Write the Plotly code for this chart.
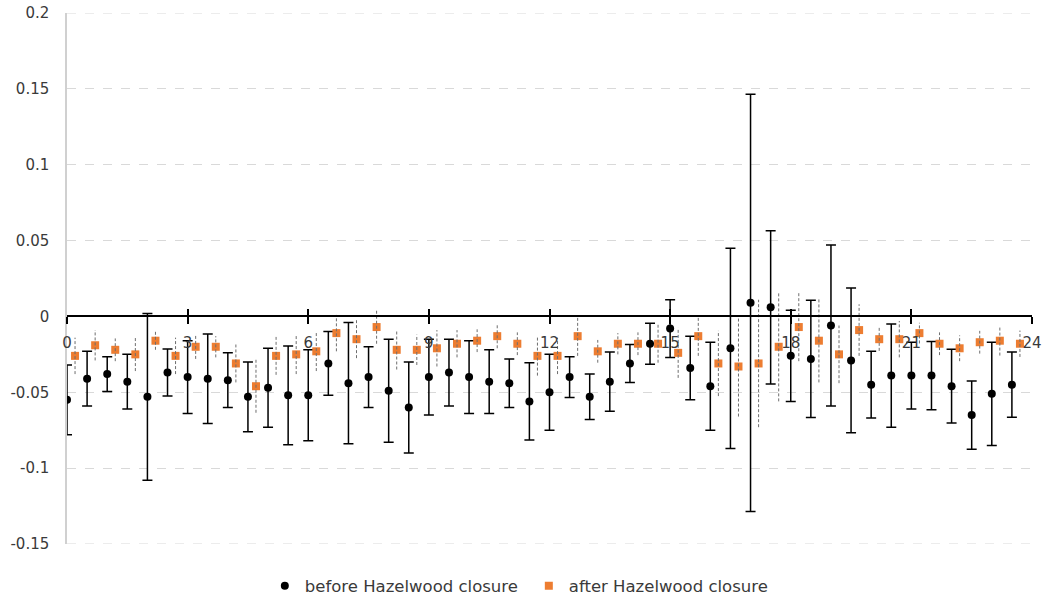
import plotly.graph_objects as go

# Half-hourly time of day (hours)
hours = [0.0, 0.5, 1.0, 1.5, 2.0, 2.5, 3.0, 3.5, 4.0, 4.5, 5.0, 5.5,
         6.0, 6.5, 7.0, 7.5, 8.0, 8.5, 9.0, 9.5, 10.0, 10.5, 11.0, 11.5,
         12.0, 12.5, 13.0, 13.5, 14.0, 14.5, 15.0, 15.5, 16.0, 16.5, 17.0, 17.5,
         18.0, 18.5, 19.0, 19.5, 20.0, 20.5, 21.0, 21.5, 22.0, 22.5, 23.0, 23.5]

before_mean = [-0.055, -0.041, -0.038, -0.043, -0.053, -0.037, -0.040, -0.041,
               -0.042, -0.053, -0.047, -0.052, -0.052, -0.031, -0.044, -0.040,
               -0.049, -0.060, -0.040, -0.037, -0.040, -0.043, -0.044, -0.056,
               -0.050, -0.040, -0.053, -0.043, -0.031, -0.018, -0.008, -0.034,
               -0.046, -0.021, 0.009, 0.006, -0.026, -0.028, -0.006, -0.029,
               -0.045, -0.039, -0.039, -0.039, -0.046, -0.065, -0.051, -0.045]
before_err = [0.023, 0.018, 0.0115, 0.018, 0.055, 0.0155, 0.024, 0.0295,
              0.018, 0.023, 0.026, 0.0325, 0.030, 0.021, 0.040, 0.020,
              0.034, 0.030, 0.025, 0.022, 0.024, 0.021, 0.016, 0.0255,
              0.025, 0.0135, 0.015, 0.0195, 0.0125, 0.0135, 0.019, 0.021,
              0.029, 0.066, 0.1375, 0.0505, 0.030, 0.0387, 0.053, 0.0477,
              0.022, 0.034, 0.022, 0.0225, 0.0243, 0.0225, 0.034, 0.0215]

after_mean = [-0.026, -0.019, -0.022, -0.025, -0.016, -0.026, -0.020, -0.020,
              -0.031, -0.046, -0.026, -0.025, -0.023, -0.011, -0.015, -0.007,
              -0.022, -0.022, -0.021, -0.018, -0.016, -0.013, -0.018, -0.026,
              -0.026, -0.013, -0.023, -0.018, -0.018, -0.018, -0.024, -0.013,
              -0.031, -0.033, -0.031, -0.020, -0.007, -0.016, -0.025, -0.009,
              -0.015, -0.015, -0.011, -0.018, -0.021, -0.017, -0.016, -0.018]
after_err = [0.012, 0.010, 0.0075, 0.011, 0.006, 0.012, 0.008, 0.007,
             0.0125, 0.0175, 0.0125, 0.013, 0.013, 0.012, 0.0125, 0.011,
             0.013, 0.010, 0.012, 0.009, 0.0075, 0.008, 0.0075, 0.013,
             0.012, 0.013, 0.0075, 0.007, 0.0075, 0.0125, 0.0165, 0.013,
             0.0215, 0.033, 0.042, 0.036, 0.0225, 0.0275, 0.019, 0.017,
             0.0077, 0.012, 0.0068, 0.0075, 0.0085, 0.0075, 0.0098, 0.0087]

x_ticks = [0, 3, 6, 9, 12, 15, 18, 21, 24]
y_ticks = [-0.15, -0.1, -0.05, 0, 0.05, 0.1, 0.15, 0.2]
y_tick_text = ["-0.15", "-0.1", "-0.05", "0", "0.05", "0.1", "0.15", "0.2"]

FONT = "DejaVu Sans"
TEXT_COLOR = "#3a3a3a"
GRID_COLOR = "#d9d9d9"
ORANGE = "#ED7D31"
AFTER_SHIFT = 0.2
Y_RANGE = [y_ticks[0], y_ticks[-1]]

after_x = [h + AFTER_SHIFT for h in hours]

# dashed whiskers for the "after" series, built from mean +/- error
dash_x, dash_y = [], []
for xv, m, e in zip(after_x, after_mean, after_err):
    dash_x += [xv, xv, None]
    dash_y += [m - e, m + e, None]

fig = go.Figure()

fig.add_trace(go.Scatter(
    x=dash_x, y=dash_y, mode="lines", xaxis="x2",
    line=dict(color="#6e6e6e", width=1, dash="3px,2px"),
    showlegend=False, hoverinfo="skip",
))

fig.add_trace(go.Scatter(
    x=hours, y=before_mean, mode="markers",
    name="before Hazelwood closure",
    marker=dict(symbol="circle", size=8, color="black"),
    error_y=dict(type="data", array=before_err, visible=True,
                 color="black", thickness=1.5, width=5),
))

fig.add_trace(go.Scatter(
    x=after_x, y=after_mean, mode="markers",
    name="after Hazelwood closure",
    marker=dict(symbol="square", size=8, color=ORANGE),
))

# outermost gridlines sit on the plot edges, draw them explicitly
for yv in (y_ticks[0], y_ticks[-1]):
    fig.add_shape(type="line", xref="paper", x0=0, x1=1, yref="y", y0=yv, y1=yv,
                  line=dict(color=GRID_COLOR, width=1, dash="dash"), layer="below")

zero_pos = (0 - Y_RANGE[0]) / (Y_RANGE[1] - Y_RANGE[0])

fig.update_layout(
    width=1043, height=601,
    paper_bgcolor="white", plot_bgcolor="white",
    margin=dict(l=67, r=11, t=13, b=57, autoexpand=False),
    font=dict(family=FONT, size=15, color=TEXT_COLOR),
    xaxis=dict(
        range=[0, 24], tickvals=x_ticks, ticktext=[str(t) for t in x_ticks],
        anchor="free", position=zero_pos, automargin=False,
        showline=True, linecolor="black", linewidth=1.5,
        ticks="outside", ticklen=7, tickwidth=1.5, tickcolor="black",
        ticklabelstandoff=6,
        showgrid=False, zeroline=False,
        tickfont=dict(family=FONT, size=15, color=TEXT_COLOR),
    ),
    xaxis2=dict(
        range=[0, 24], overlaying="x", matches="x",
        anchor="free", position=zero_pos, automargin=False,
        tickvals=x_ticks, showticklabels=False,
        showline=False, ticks="inside", ticklen=7, tickwidth=1.5,
        tickcolor="black", showgrid=False, zeroline=False,
    ),
    yaxis=dict(
        range=Y_RANGE, tickvals=y_ticks, ticktext=y_tick_text,
        automargin=False,
        showline=True, linecolor="#d0d0d0", linewidth=1.5,
        showgrid=True, gridcolor=GRID_COLOR, griddash="dash", gridwidth=1,
        zeroline=False, ticks="", ticklabelstandoff=13,
        tickfont=dict(family=FONT, size=15, color=TEXT_COLOR),
    ),
    legend=dict(
        orientation="h", x=0.205, xanchor="left",
        yref="container", y=0.025, yanchor="middle",
        font=dict(family=FONT, size=16.5, color=TEXT_COLOR),
        itemwidth=30, entrywidth=219, entrywidthmode="pixels",
        bgcolor="rgba(0,0,0,0)",
    ),
)

fig.write_html("out.html")
